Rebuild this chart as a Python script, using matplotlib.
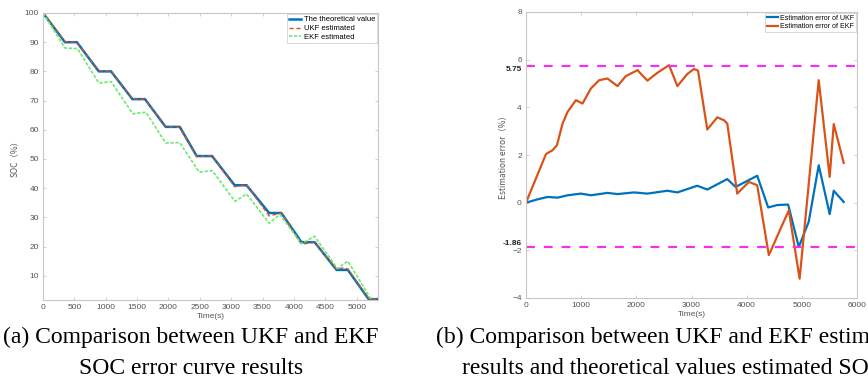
import matplotlib
matplotlib.use('Agg')
import matplotlib.pyplot as plt

# (a) SOC curves
t_theory = [0, 350, 540, 890, 1085, 1425, 1625, 1955, 2180, 2450, 2695, 3055, 3245,
            3605, 3800, 4120, 4330, 4680, 4860, 5190, 5340]
soc_theory = [100, 90, 90, 80, 80, 70.5, 70.5, 61, 61, 51, 51, 41, 41,
              31.5, 31.5, 21.5, 21.5, 12, 12, 2, 2]
t_ukf = [0, 350, 540, 890, 1085, 1425, 1625, 1955, 2180, 2450, 2695, 3055, 3245,
         3605, 3800, 4120, 4330, 4680, 4800, 4860, 5190, 5340]
soc_ukf = [100, 90.2, 90, 80.3, 80, 70.6, 70.4, 61.2, 60.8, 50.8, 51.2, 40.5, 41.2,
           30.5, 31.5, 20.8, 21.5, 12.2, 12.8, 12.3, 2.2, 2]
t_ekf = [0, 350, 550, 890, 1085, 1430, 1640, 1955, 2180, 2490, 2700, 3060, 3245,
         3605, 3775, 4120, 4330, 4690, 4860, 5250, 5340]
soc_ekf = [100, 88, 87.8, 76, 76.5, 65.5, 66, 55.5, 55.6, 45.5, 46, 35.5, 38,
           28, 31, 21, 23.5, 12.5, 15, 1.2, 1]

# (b) estimation errors
t_err_ukf = [0, 211, 392, 573, 754, 995, 1176, 1477, 1658, 1960, 2201, 2563, 2744,
             3105, 3286, 3648, 3799, 4191, 4390, 4553, 4752, 4945, 5125, 5306,
             5505, 5578, 5759]
err_ukf = [0, 0.14, 0.24, 0.21, 0.31, 0.38, 0.31, 0.41, 0.36, 0.43, 0.38, 0.5, 0.43,
           0.71, 0.55, 0.99, 0.66, 1.13, -0.2, -0.1, -0.08, -1.86, -0.8, 1.57,
           -0.48, 0.5, 0.03]
t_err_ekf = [0, 362, 482, 561, 663, 754, 905, 1025, 1176, 1327, 1477, 1658, 1809,
             2020, 2201, 2382, 2593, 2744, 2925, 3045, 3118, 3286, 3467, 3588, 3648,
             3829, 4040, 4191, 4402, 4764, 4960, 5306, 5505, 5578, 5759]
err_ekf = [0, 2.04, 2.2, 2.41, 3.32, 3.81, 4.3, 4.16, 4.79, 5.14, 5.21, 4.89, 5.31,
           5.56, 5.12, 5.45, 5.77, 4.89, 5.4, 5.61, 5.54, 3.07, 3.58, 3.46, 3.32,
           0.38, 0.87, 0.73, -2.2, -0.32, -3.19, 5.14, 1.08, 3.3, 1.67]
err_max, err_min = 5.75, -1.86

BLUE = '#0072BD'
ORANGE = '#D95319'
GRAY = '#c8c8c8'
TXT = '#555555'

plt.rcParams['font.family'] = ['Liberation Sans', 'DejaVu Sans']

fig = plt.figure(figsize=(8.68, 3.78), dpi=100)
W, H = 868, 378


def style(ax):
    for s in ax.spines.values():
        s.set_color(GRAY)
        s.set_linewidth(0.8)
    ax.tick_params(direction='in', length=2, width=0.6, color=GRAY,
                   labelsize=6, labelcolor=TXT, top=True, right=True, pad=3)


ax1 = fig.add_axes([43 / W, 1 - 300 / H, 335 / W, 287 / H])
ax1.plot(t_theory, soc_theory, color=BLUE, lw=1.8, label='The theoretical value')
ax1.plot(t_ukf, soc_ukf, color=ORANGE, lw=1.0, ls=(0, (3, 2)), label='UKF estimated')
ax1.plot(t_ekf, soc_ekf, color='#6fe86f', lw=1.2, ls=(0, (2, 1)), label='EKF estimated')
ax1.set_xlim(0, 5340)
ax1.set_ylim(1.7, 100)
ax1.set_xticks(range(0, 5001, 500))
ax1.set_yticks(range(10, 101, 10))
ax1.set_xlabel('Time(s)', fontsize=6, color=TXT, labelpad=1)
ax1.set_ylabel('SOC（%）', fontsize=6, color=TXT, family=['Noto Sans CJK SC', 'DejaVu Sans'])
style(ax1)
leg = ax1.legend(loc='upper right', fontsize=5.5, frameon=True, fancybox=False,
                 borderpad=0.3, handlelength=1.6, handletextpad=0.3, labelspacing=0.2,
                 borderaxespad=0.1)
leg.get_frame().set_edgecolor(GRAY)
leg.get_frame().set_linewidth(0.6)

ax2 = fig.add_axes([526 / W, 1 - 298 / H, 331 / W, 286 / H])
ax2.plot(t_err_ukf, err_ukf, color=BLUE, lw=1.6, label='Estimation error of UKF')
ax2.plot(t_err_ekf, err_ekf, color=ORANGE, lw=1.6, label='Estimation error of EKF')
ax2.axhline(err_max, color='#ee33ee', lw=1.6, ls=(0, (4, 4)))
ax2.axhline(err_min, color='#ee33ee', lw=1.6, ls=(0, (4, 4)))
ax2.set_xlim(0, 6000)
ax2.set_ylim(-4, 8)
ax2.set_xticks(range(0, 6001, 1000))
ax2.set_yticks(range(-4, 9, 2))
ax2.set_xlabel('Time(s)', fontsize=6, color=TXT, labelpad=1)
ax2.set_ylabel('Estimation error（%）', fontsize=6, color=TXT,
               family=['Noto Sans CJK SC', 'DejaVu Sans'])
style(ax2)
ax2.text(-0.012, err_max - 0.15, f'{err_max:.2f}', transform=ax2.get_yaxis_transform(),
         ha='right', va='center', fontsize=6, fontweight='bold', color='#222222')
ax2.text(-0.012, err_min + 0.15, f'{err_min:.2f}', transform=ax2.get_yaxis_transform(),
         ha='right', va='center', fontsize=6, fontweight='bold', color='#222222')
leg2 = ax2.legend(loc='upper right', fontsize=5, frameon=True, fancybox=False,
                  borderpad=0.3, handlelength=1.6, handletextpad=0.3, labelspacing=0.2,
                  borderaxespad=0.1)
leg2.get_frame().set_edgecolor(GRAY)
leg2.get_frame().set_linewidth(0.6)

# captions; (b) runs past the right edge, as in the cropped original
cap = dict(fontsize=17, family='Liberation Serif', color='black', va='center')
fig.text(191 / W, 1 - 337 / H, '(a) Comparison between UKF and EKF', ha='center', **cap)
fig.text(191 / W, 1 - 369 / H, 'SOC error curve results', ha='center', **cap)
fig.text(436 / W, 1 - 337 / H, '(b) Comparison between UKF and EKF estimation', ha='left', **cap)
fig.text(462 / W, 1 - 369 / H, 'results and theoretical values estimated SOC', ha='left', **cap)

fig.savefig('out.png', dpi=100)
